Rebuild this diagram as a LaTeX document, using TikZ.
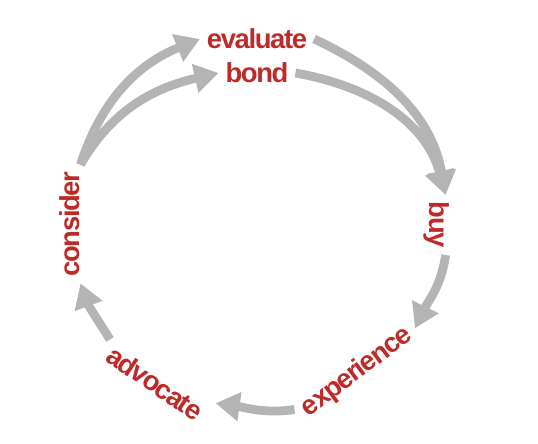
\documentclass[tikz,border=0pt]{standalone}
\usepackage{fontspec}
\setmainfont{Liberation Sans}[LetterSpace=-5]
\usetikzlibrary{arrows.meta}
\definecolor{stagered}{RGB}{190,42,40}
\definecolor{arrgray}{RGB}{180,180,180}
\tikzstyle{stage}=[text=stagered,font=\fontsize{19.5}{22}\selectfont\bfseries,inner sep=2pt,outer sep=3pt]
\tikzstyle{arr}=[-{Triangle[length=0.6cm,width=0.7cm]},draw=arrgray,line width=0.22cm]

\begin{document}
\begin{tikzpicture}[x=0.025cm,y=0.025cm]
  \useasboundingbox (0,0) rectangle (538,444);
  \node[stage] (evaluate) at (257,405) {evaluate};
  \node[stage] (bond) at (257,371) {bond};
  \node[stage,rotate=-90] (buy) at (437,219) {buy};
  \node[stage,rotate=37] (experience) at (357,72) {experience};
  \node[stage,rotate=-34] (advocate) at (155,61) {advocate};
  \node[stage,rotate=90] (consider) at (70,220) {consider};
  \draw[arr] (evaluate.east) to[out=-25,in=100] (buy.164);
  \draw[arr] (bond.east) to[out=-10,in=105] (buy.164);
  \draw[arr] (buy.16) to[out=-98,in=64] (experience.east);
  \draw[arr] (experience.174) to[out=188,in=-8] (advocate.north east);
  \draw[arr] (advocate.170) to[out=122,in=-70] (consider.190);
  \draw[arr] (consider.-10) to[out=72,in=202] (evaluate.west);
  \draw[arr] (consider.-10) to[out=60,in=193] (bond.west);
\end{tikzpicture}
\end{document}
